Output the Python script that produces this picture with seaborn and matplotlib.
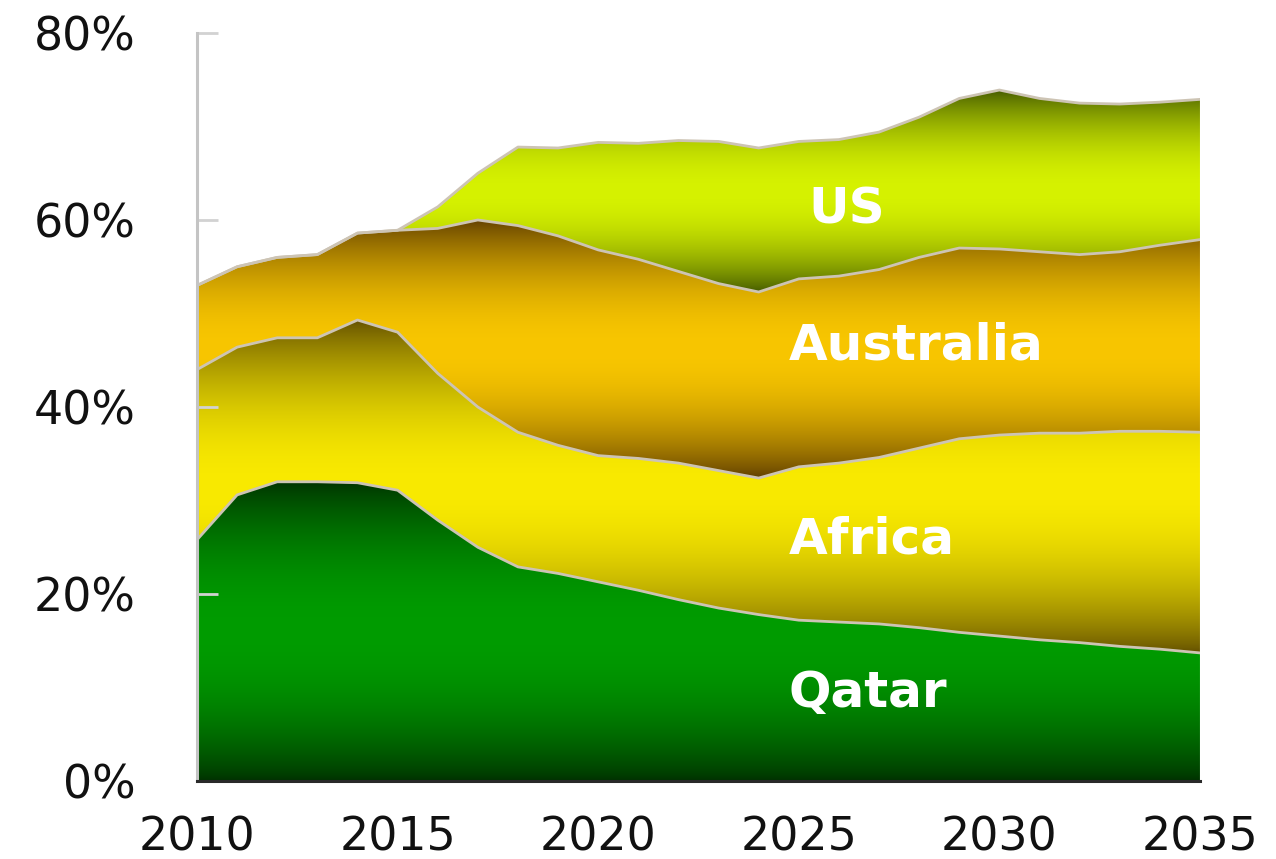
import numpy as np
import pandas as pd
import matplotlib
matplotlib.use("Agg")
import matplotlib.pyplot as plt
from matplotlib.colors import LinearSegmentedColormap, to_rgb
import seaborn as sns

# Share of LNG supply by source (percent), 2010-2035
years = list(range(2010, 2036))
qatar = [25.8, 30.6, 32.0, 32.0, 31.9, 31.1, 27.9, 25.0, 22.9, 22.2, 21.3, 20.4, 19.4,
         18.5, 17.8, 17.2, 17.0, 16.8, 16.4, 15.9, 15.5, 15.1, 14.8, 14.4, 14.1, 13.7]
africa = [18.2, 15.8, 15.4, 15.4, 17.4, 16.9, 15.7, 15.0, 14.4, 13.7, 13.5, 14.1, 14.6,
          14.7, 14.6, 16.4, 17.0, 17.8, 19.2, 20.7, 21.5, 22.1, 22.4, 23.0, 23.3, 23.6]
australia = [9.0, 8.6, 8.6, 8.9, 9.3, 10.9, 15.5, 20.0, 22.1, 22.4, 22.0, 21.3, 20.5,
             20.0, 19.9, 20.1, 20.0, 20.1, 20.4, 20.4, 19.9, 19.4, 19.1, 19.2, 19.9, 20.6]
us = [0.0, 0.0, 0.0, 0.0, 0.0, 0.0, 2.3, 5.0, 8.4, 9.4, 11.5, 12.4, 14.0,
      15.2, 15.4, 14.7, 14.6, 14.7, 15.0, 16.0, 17.0, 16.4, 16.2, 15.8, 15.3, 15.0]
series_names = ["Qatar", "Africa", "Australia", "US"]

y_ticks = [0, 20, 40, 60, 80]
x_ticks = [2010, 2015, 2020, 2025, 2030, 2035]

# band shading: dark at the band's outer edges, bright in the middle
edge_colors = ["#003200", "#645000", "#603e00", "#445a00"]
mid_colors = ["#009c00", "#f9ea00", "#f8c600", "#d6f200"]

label_xy = {"Qatar": (2024.75, 9.4), "Africa": (2024.75, 25.8),
            "Australia": (2024.75, 46.6), "US": (2025.25, 61.1)}


def band_cmap(name, edge, mid):
    """Smooth dark-bright-dark ramp across the band's height."""
    t = np.linspace(0, 1, 64)
    w = np.sin(np.pi * t) ** 0.8
    e, m = np.array(to_rgb(edge)), np.array(to_rgb(mid))
    cols = [tuple(e + (m - e) * wi) for wi in w]
    return LinearSegmentedColormap.from_list(name, list(zip(t, cols)))


sns.set_theme(style="white")
plt.rcParams["font.family"] = ["DejaVu Sans"]

fig = plt.figure(figsize=(12.76, 8.59), dpi=100)
ax = fig.add_axes([0.1544, 0.0908, 0.7860, 0.8708])

x = np.array(years, dtype=float)
shares = np.array([qatar, africa, australia, us])
tops = np.cumsum(shares, axis=0)
bottoms = np.vstack([np.zeros(len(years)), tops[:-1]])

for i, name in enumerate(series_names):
    lo, hi = bottoms[i], tops[i]
    poly = ax.fill_between(x, lo, hi, facecolor="none", edgecolor="none", zorder=1)
    ymin, ymax = lo.min(), hi.max()
    if ymax - ymin <= 0:
        continue
    cmap = band_cmap(name, edge_colors[i], mid_colors[i])
    grad = np.linspace(0, 1, 512).reshape(-1, 1)
    img = ax.imshow(grad, cmap=cmap, aspect="auto", origin="lower",
                    extent=[x[0], x[-1], ymin, ymax], interpolation="bilinear",
                    zorder=1)
    clip = poly.get_paths()[0]
    img.set_clip_path(clip, transform=ax.transData)

# boundary lines between bands
long_df = pd.DataFrame({
    "year": np.tile(x, len(series_names)),
    "top": tops.ravel(),
    "series": np.repeat(series_names, len(years)),
})
sns.lineplot(data=long_df, x="year", y="top", units="series", estimator=None,
             color="#cdc4b4", linewidth=2.0, ax=ax, zorder=3)

for name in series_names:
    lx, ly = label_xy[name]
    ax.text(lx, ly, name, color="white", fontsize=36, fontweight="bold",
            ha="left", va="center", zorder=4)

ax.set_xlim(2010, 2035)
ax.set_ylim(0, 80)
ax.set_xlabel("")
ax.set_ylabel("")
ax.set_yticks(y_ticks)
ax.set_yticklabels([f"{v}%" for v in y_ticks])
ax.set_xticks(x_ticks)
ax.set_xticklabels([str(v) for v in x_ticks])

for side in ["top", "right"]:
    ax.spines[side].set_visible(False)
ax.spines["left"].set_color("#c4c4c4")
ax.spines["left"].set_linewidth(2.2)
ax.spines["bottom"].set_color("#2a2a2a")
ax.spines["bottom"].set_linewidth(2.2)
ax.spines["left"].set_zorder(5)
ax.spines["bottom"].set_zorder(5)

ax.tick_params(axis="y", direction="in", length=15, width=2, color="#d2d2d2",
               labelsize=33, labelcolor="#111111", pad=44, left=True)
ax.tick_params(axis="x", length=0, labelsize=33, labelcolor="#111111", pad=25)
for t in ax.yaxis.get_major_ticks():
    t.tick1line.set_zorder(6)
ax.set_axisbelow(False)

fig.savefig("out.png", dpi=100)
